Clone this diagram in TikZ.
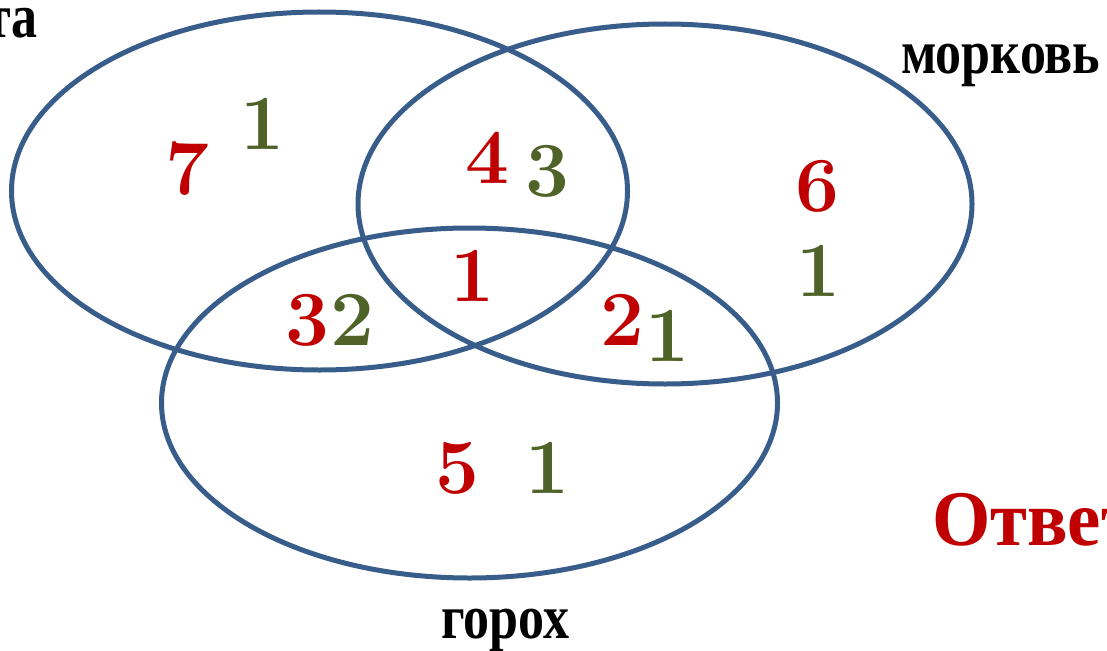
\documentclass[tikz,border=0pt]{standalone}
\usepackage{fontspec}
\usepackage{graphicx}
\newfontfamily\lblfont{Liberation Serif}
\definecolor{vennblue}{RGB}{56,93,138}
\definecolor{numred}{RGB}{192,0,0}
\definecolor{numgreen}{RGB}{79,98,40}
\newcommand{\stretchy}[1]{\scalebox{1}[1.2]{#1}}
\tikzset{
  venn/.style={draw=vennblue, line width=5pt},
  numr/.style={text=numred, inner sep=0pt, anchor=center, font=\fontsize{78}{80}\selectfont\bfseries},
  numg/.style={text=numgreen, inner sep=0pt, anchor=center, font=\fontsize{78}{80}\selectfont\bfseries},
  setlabel/.style={inner sep=0pt, anchor=base west, font=\lblfont\bfseries\fontsize{52}{54}\selectfont},
  answer/.style={inner sep=0pt, anchor=base west, text=numred, font=\lblfont\bfseries\fontsize{75}{77}\selectfont}
}
\begin{document}
\begin{tikzpicture}[x=1pt,y=-1pt]
\useasboundingbox (0,0) rectangle (1107,650);
\clip (0,0) rectangle (1107,650);
\draw[venn] (319.5,191) ellipse [x radius=308, y radius=179] node (A) {};
\draw[venn] (665,204) ellipse [x radius=307, y radius=180] node (B) {};
\draw[venn] (469.5,403) ellipse [x radius=308, y radius=175] node (C) {};
% labels
\node[setlabel, anchor=base east] (la) at (38,38) {\stretchy{та}};
\node[setlabel] (lb) at (901,74) {\stretchy{морковь}};
\node[setlabel] (lc) at (441,638) {\stretchy{горох}};
\node[answer] (ans) at (932,545) {\scalebox{1}[1.05]{Ответ}};
% numbers
\node[numr] (n7) at (187,169) {7};
\node[numg] (g1a) at (262,124) {1};
\node[numr] (n4) at (487,158) {4};
\node[numg] (g3) at (547,171) {3};
\node[numr] (n1) at (472,276) {1};
\node[numr] (n3) at (307,320) {3};
\node[numg] (g2) at (352,320) {2};
\node[numr] (n2) at (622,320) {2};
\node[numg] (g1b) at (667,336) {1};
\node[numr] (n6) at (817,186) {6};
\node[numg] (g1c) at (818,271) {1};
\node[numr] (n5) at (457,468) {5};
\node[numg] (g1d) at (547,468) {1};
\end{tikzpicture}
\end{document}
